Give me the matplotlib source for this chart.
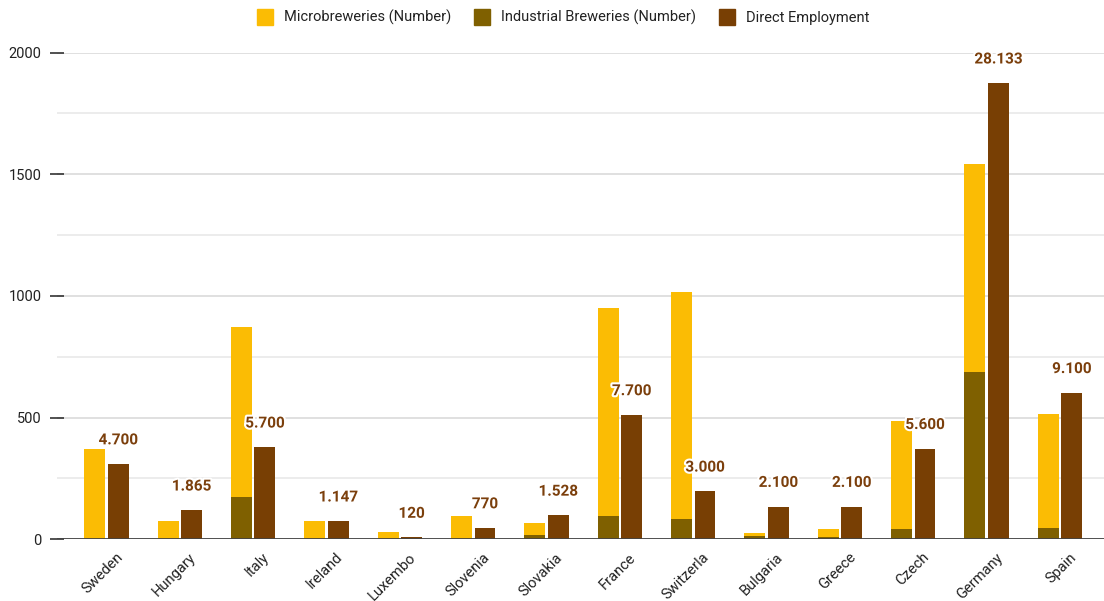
import matplotlib
matplotlib.use("Agg")
import matplotlib.pyplot as plt
import matplotlib.patheffects as pe
import matplotlib.transforms as mtrans
from matplotlib.lines import Line2D
import numpy as np

plt.rcParams['font.family'] = ['Roboto', 'DejaVu Sans']

# ---- podatki (odcitani s slike) ----
drzave = ['Sweden', 'Hungary', 'Italy', 'Ireland', 'Luxembo', 'Slovenia', 'Slovakia',
          'France', 'Switzerla', 'Bulgaria', 'Greece', 'Czech', 'Germany', 'Spain']
mikro = [371, 74, 696, 74, 31, 93, 51, 855, 933, 13, 31, 443, 857, 469]
industrijske = [0, 0, 175, 0, 0, 0, 16, 94, 83, 12, 10, 41, 687, 47]
zaposleni_visina = [309, 119, 378, 74, 7, 46, 98, 511, 197, 134, 134, 372, 1875, 602]
zaposleni_napis = ['4.700', '1.865', '5.700', '1.147', '120', '770', '1.528',
                   '7.700', '3.000', '2.100', '2.100', '5.600', '28.133', '9.100']

rumena = '#fbbc04'
olivna = '#7f6000'
rjava = '#783f04'

fig = plt.figure(figsize=(11.04, 6.01), dpi=100)
ax = fig.add_axes([57/1104, (601-539.1)/601, 1 - 57/1104, (539.1-52.7)/601])

x = np.arange(len(drzave))
sirina = 0.285
odmik = 0.16

ax.bar(x - odmik, industrijske, sirina, color=olivna, zorder=3)
ax.bar(x - odmik, mikro, sirina, bottom=industrijske, color=rumena, zorder=3)
stolpci = ax.bar(x + odmik, zaposleni_visina, sirina, color=rjava, zorder=3)

# napisi nad stolpci zaposlenih (z belim robom)
for s, napis in zip(stolpci, zaposleni_napis):
    ax.annotate(napis, (s.get_x() + s.get_width()/2, s.get_height()),
                xytext=(0, 17), textcoords='offset points', ha='center', va='center',
                fontsize=11, fontweight='bold', color='#7b3f0c', zorder=5,
                path_effects=[pe.withStroke(linewidth=3, foreground='white')])

ax.set_xlim(-0.675, 13.6)
ax.set_ylim(0, 2000)
ax.set_yticks([0, 500, 1000, 1500, 2000])
ax.set_yticks([250, 750, 1250, 1750], minor=True)
ax.grid(axis='y', which='major', color='#dddddd', linewidth=1.3, zorder=0)
ax.grid(axis='y', which='minor', color='#ebebeb', linewidth=1.3, zorder=0)
ax.tick_params(axis='y', which='major', direction='inout', length=10, width=1.2,
               color='#333333', pad=6, labelsize=10.5, labelcolor='#222222')
ax.tick_params(axis='y', which='minor', length=0)
for sp in ax.spines.values():
    sp.set_visible(False)
ax.axhline(0, color='#444444', linewidth=1.3, zorder=4)

ax.set_xticks(x)
ax.set_xticklabels(drzave, rotation=45, ha='right', va='top', rotation_mode='anchor',
                   fontsize=10.5, color='#222222')
ax.tick_params(axis='x', length=0, pad=8)
premik = mtrans.ScaledTranslation(9/100, 0, fig.dpi_scale_trans)
for lab in ax.get_xticklabels():
    lab.set_transform(lab.get_transform() + premik)

rocaji = [Line2D([], [], marker='s', linestyle='', markersize=11, color=b)
          for b in (rumena, olivna, rjava)]
fig.legend(rocaji, ['Microbreweries (Number)', 'Industrial Breweries (Number)', 'Direct Employment'],
           loc='center', bbox_to_anchor=(0.507, 0.971), ncol=3, frameon=False,
           fontsize=10.5, handletextpad=0.3, columnspacing=1.1, labelcolor='#222222')

plt.savefig('out.png', dpi=100)
